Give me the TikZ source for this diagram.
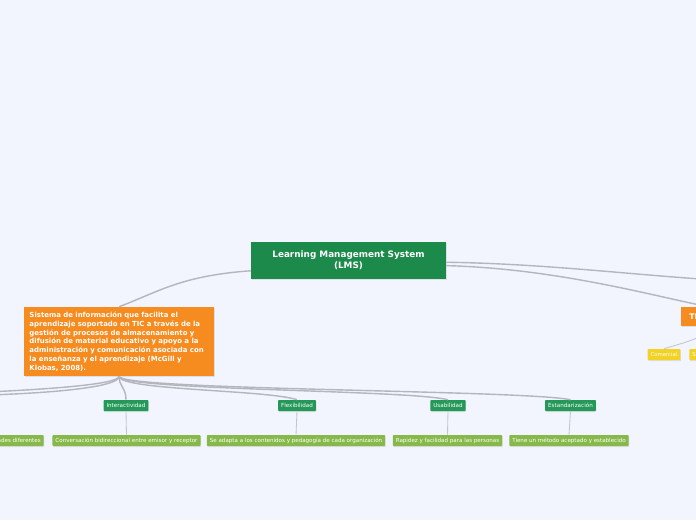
\documentclass[tikz,border=0pt]{standalone}
\usepackage{fontspec}
\setmainfont{DejaVu Sans}
\usetikzlibrary{positioning, shadows}

\definecolor{bgblue}{HTML}{F2F5FD}
\definecolor{rootgreen}{HTML}{1B8A4B}
\definecolor{deforange}{HTML}{F68B1F}
\definecolor{featgreen}{HTML}{249858}
\definecolor{descgreen}{HTML}{86B94A}
\definecolor{typeyellow}{HTML}{F2D224}
\definecolor{linkgray}{HTML}{B3B6BD}

\newdimen\px
\px=0.025cm

\begin{document}
\begin{tikzpicture}[
    x=0.025cm, y=-0.025cm,
    soft/.style={drop shadow={opacity=0.18, shadow xshift=0.4pt, shadow yshift=-0.8pt}},
    root/.style={rectangle, soft, fill=rootgreen, text=white, minimum width=195\px, minimum height=37\px, inner sep=0pt, align=center, font=\fontsize{6.3}{7.6}\selectfont\bfseries},
    defbox/.style={rectangle, soft, fill=deforange, text=white, minimum height=69\px, text width=179\px, inner xsep=5.5\px, inner ysep=0pt, align=left, font=\fontsize{4.95}{6.25}\selectfont\bfseries},
    typebox/.style={rectangle, soft, fill=deforange, text=white, minimum height=19\px, text width=40\px, inner xsep=8\px, inner ysep=0pt, align=left, font=\fontsize{5.5}{6.5}\selectfont\bfseries},
    feature/.style={rectangle, soft, rounded corners=0.8\px, fill=featgreen, text=white, minimum height=11\px, inner xsep=3\px, inner ysep=0pt, font=\fontsize{4}{5}\selectfont},
    detail/.style={rectangle, soft, rounded corners=0.8\px, fill=descgreen, text=white, minimum height=11\px, inner xsep=3\px, inner ysep=0pt, font=\fontsize{3.95}{4.8}\selectfont},
    kind/.style={rectangle, soft, rounded corners=0.8\px, fill=typeyellow, text=white, minimum height=11\px, inner xsep=3\px, inner ysep=0pt, font=\fontsize{3.8}{4.5}\selectfont},
    link/.style={draw=linkgray, line width=1pt},
    stem/.style={draw=linkgray!80, line width=0.6pt}
]

    % --- Canvas ---
    \fill[bgblue] (0,0) rectangle (696,520);
    \clip (0,0) rectangle (696,520);

    % --- Central topic ---
    \node[root] (lms) at (348.5,260.5) {Learning Management System\\(LMS)};

    % --- Definition ---
    \node[defbox] (def) at (119,341.5) {Sistema de información que facilita el\\
        aprendizaje soportado en TIC a través de la\\
        gestión de procesos de almacenamiento y\\
        difusión de material educativo y apoyo a la\\
        administración y comunicación asociada con\\
        la enseñanza y el aprendizaje (McGill y\\
        Klobas, 2008).};

    % --- Types (right, mostly off canvas) ---
    \node[typebox, anchor=north west] (tipos) at (681,307) {TI};
    \node[kind] (comercial) at (664,354.5) {Comercial};
    \node[kind, anchor=west, text width=30\px, align=left] (kind2) at (689,354.5) {S};
    \coordinate (offR) at (760,282);

    % --- Features ---
    \node[feature] (inter) at (126,405.5) {Interactividad};
    \node[feature] (flex) at (297,405.5) {Flexibilidad};
    \node[feature] (usab) at (448,405.5) {Usabilidad};
    \node[feature] (estan) at (570.5,405.5) {Estandarización};
    \coordinate (offL1) at (-60,396);
    \coordinate (offL2) at (-220,397);

    % --- Details ---
    \node[detail, anchor=east] (d0) at (44,440.5) {ades diferentes};
    \node[detail] (d1) at (126.5,440.5) {Conversación bidireccional entre emisor y receptor};
    \node[detail] (d2) at (296,440.5) {Se adapta a los contenidos y pedagogía de cada organización};
    \node[detail] (d3) at (447.5,440.5) {Rapidez y facilidad para las personas};
    \node[detail] (d4) at (569,440.5) {Tiene un método aceptado y establecido};

    % --- Connectors ---
    \draw[link] (lms.186) .. controls +(-70,5) and +(40,-15) .. (def.north);
    \draw[link] (lms.-1) .. controls +(120,2) and +(-100,-3) .. (offR);
    \draw[link] (lms.-3) .. controls +(110,3) and +(-60,-12) .. (tipos.north);
    \draw[stem] (tipos.south) .. controls +(0,10) and +(20,-6) .. (comercial.north);

    \draw[link] (def.south) .. controls +(0,16) and +(40,0) .. (offL1);
    \draw[link] (def.south) .. controls +(0,16) and +(60,0) .. (offL2);
    \draw[link] (def.south) .. controls +(0,10) and +(0,-12) .. (inter.north);
    \draw[link] (def.south) .. controls +(0,14) and +(-30,-10) .. (flex.north);
    \draw[link] (def.south) .. controls +(0,14) and +(-40,-10) .. (usab.north);
    \draw[link] (def.south) .. controls +(0,14) and +(-50,-10) .. (estan.north);

    \foreach \f/\d in {inter/d1, flex/d2, usab/d3, estan/d4}
        \draw[stem] (\f.south) -- (\d.north);

\end{tikzpicture}
\end{document}
